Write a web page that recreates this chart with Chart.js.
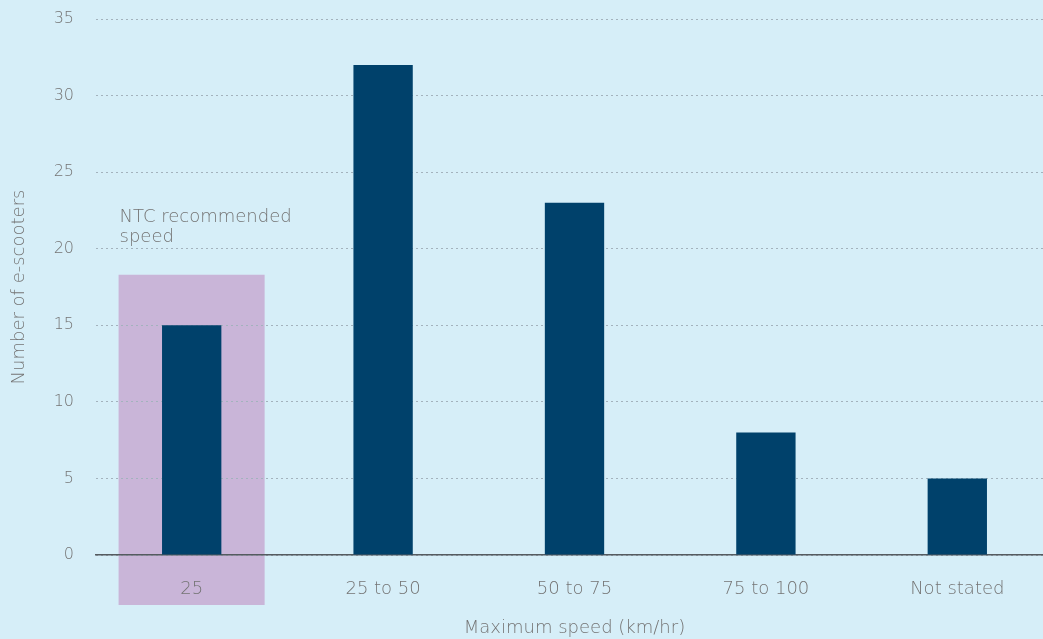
<!DOCTYPE html>
<html>
<head>
<meta charset="utf-8">
<script src="https://cdn.jsdelivr.net/npm/chart.js@4.4.0/dist/chart.umd.min.js"></script>
<style>
  html, body { margin: 0; padding: 0; background: #d6eef8; overflow: hidden; }
  /* the original chart is cut off a little on the right */
  #wrap { width: 1053px; height: 639px; position: relative; }
</style>
</head>
<body>
<div id="wrap"><canvas id="myChart"></canvas></div>
<script>
const speedLabels = ["25", "25 to 50", "50 to 75", "75 to 100", "Not stated"];
const scooterCounts = [15, 32, 23, 8, 5];
const yTicks = [0, 5, 10, 15, 20, 25, 30, 35];
const highlightIndex = 0;       // category under the NTC box
const highlightTop = 18.3;      // value where the purple box ends
const noteLines = ["NTC recommended", "speed"];

const textColor = "#747474";
const fontFamily = "'DejaVu Sans', sans-serif";
const fontWeight = 200;

// background + NTC highlight box, drawn under grid and bars
const highlightPlugin = {
  id: "highlight",
  beforeDraw: chart => {
    const {ctx, scales: {x, y}} = chart;
    ctx.save();
    ctx.fillStyle = "#d6eef8";
    ctx.fillRect(0, 0, chart.width, chart.height);

    const cw = x.width / speedLabels.length;
    const cx = x.getPixelForValue(highlightIndex);
    ctx.fillStyle = "#c9b5d8";
    const top = y.getPixelForValue(highlightTop);
    const bottom = y.getPixelForValue(0) + 50;
    ctx.fillRect(cx - cw * 0.382, top, cw * 0.763, bottom - top);

    ctx.fillStyle = textColor;
    ctx.font = fontWeight + " 18px " + fontFamily;
    ctx.textBaseline = "middle";
    noteLines.forEach((t, i) => ctx.fillText(t, cx - cw * 0.377, top - 57 + i * 20));
    ctx.restore();
  }
};

const chart = new Chart("myChart", {
  type: "bar",
  data: {
    labels: speedLabels,
    datasets: [{
      data: scooterCounts,
      backgroundColor: "#00416b",
      barPercentage: 0.31,
      categoryPercentage: 1
    }]
  },
  plugins: [highlightPlugin],
  options: {
    responsive: true,
    maintainAspectRatio: false,
    animation: false,
    layout: {padding: {top: 19, right: 0, left: 0, bottom: 0}},
    plugins: {legend: {display: false}, tooltip: {enabled: false}},
    scales: {
      x: {
        grid: {display: false},
        border: {display: true, color: "#555b60", width: 1.5},
        ticks: {color: textColor, font: {family: fontFamily, size: 18, weight: fontWeight}, padding: 16},
        title: {
          display: true,
          text: "Maximum speed (km/hr)",
          color: textColor,
          font: {family: fontFamily, size: 18, weight: fontWeight},
          padding: {top: 19, bottom: 0}
        },
        afterFit: scale => { scale.height = 84; }
      },
      y: {
        min: 0,
        max: 35,
        afterBuildTicks: scale => { scale.ticks = yTicks.map(v => ({value: v})); },
        grid: {color: "#a3b2bd", lineWidth: 1, drawTicks: false},
        border: {display: false, dash: [2, 3]},
        ticks: {color: textColor, font: {family: fontFamily, size: 16, weight: fontWeight}, padding: 22},
        title: {
          display: true,
          text: "Number of e-scooters",
          color: textColor,
          font: {family: fontFamily, size: 18, weight: fontWeight},
          padding: {top: 9, bottom: 10}
        },
        afterFit: scale => {
          scale.width = 96;
          scale.paddingTop = 0;
          scale.paddingBottom = 0;
        }
      }
    }
  }
});
</script>
</body>
</html>
